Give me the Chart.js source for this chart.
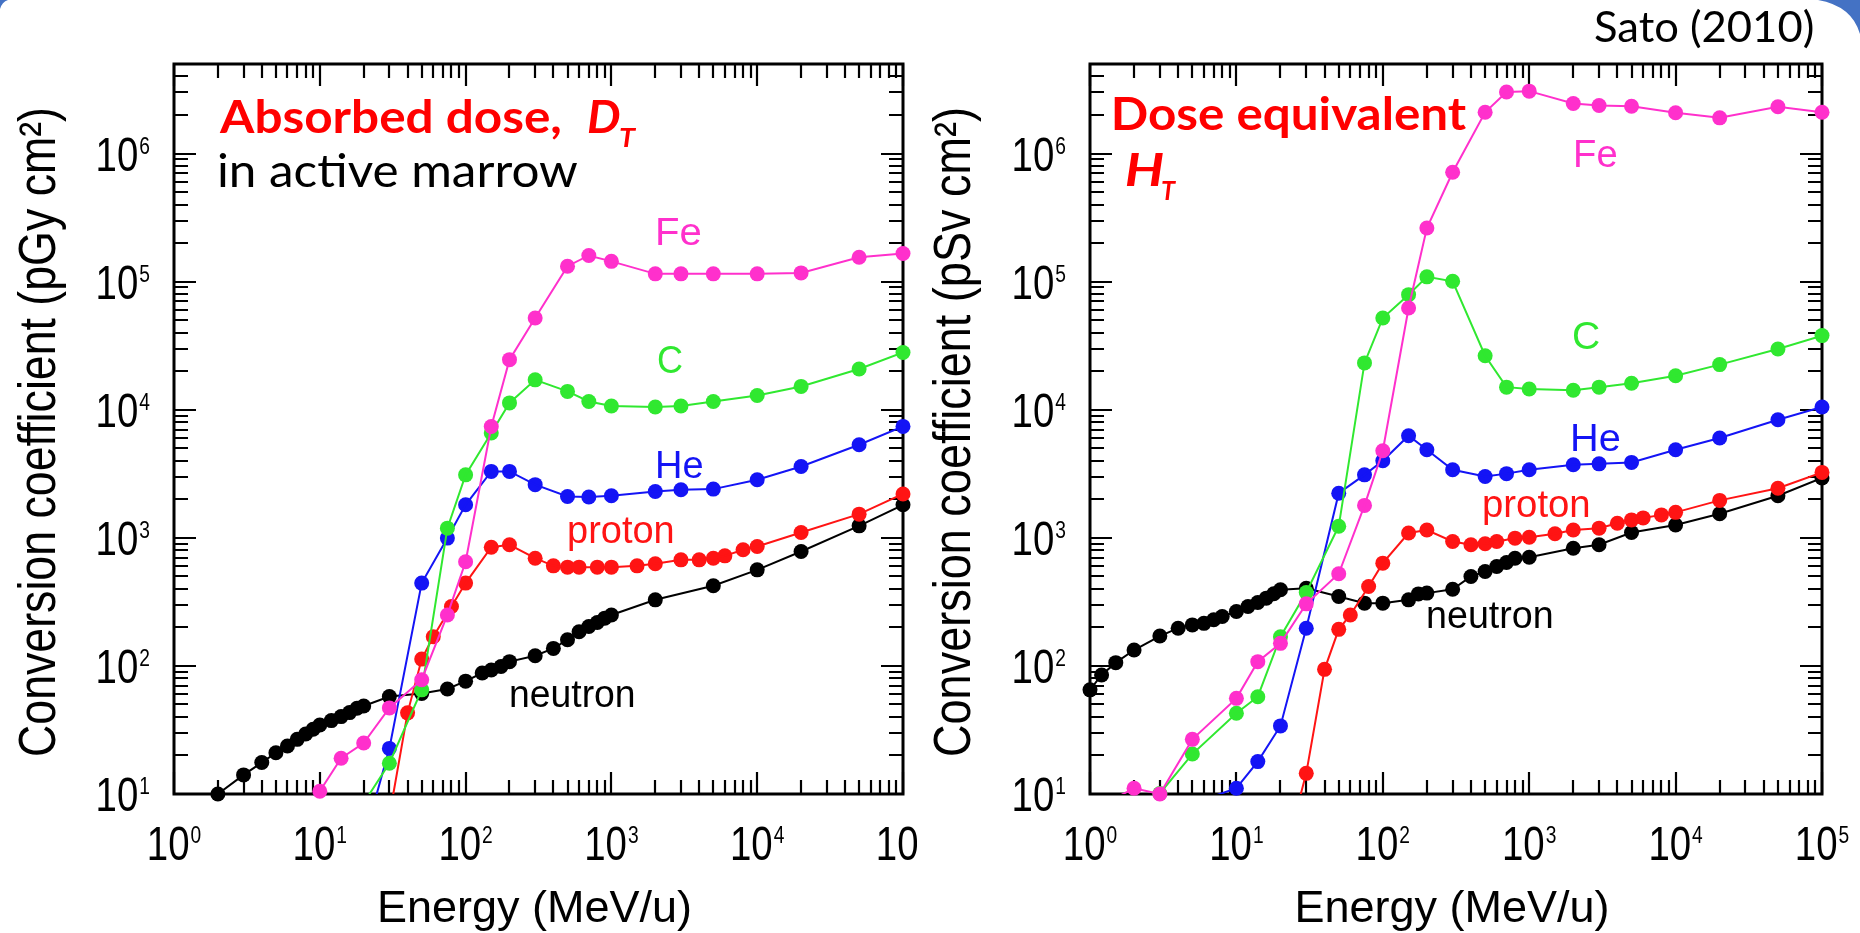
<!DOCTYPE html>
<html><head><meta charset="utf-8">
<script src="https://cdn.jsdelivr.net/npm/chart.js@4.4.0/dist/chart.umd.min.js"></script>
<style>
html,body{margin:0;padding:0;background:#fff;width:1860px;height:933px;overflow:hidden;position:relative}
#c1{position:absolute;left:0;top:0}
#c2{position:absolute;left:930px;top:0}
#deco{position:absolute;left:0;top:0;pointer-events:none}
</style></head><body>
<canvas id="c1" width="917" height="933"></canvas>
<canvas id="c2" width="930" height="933"></canvas>
<svg id="deco" width="1860" height="933"><path d="M1818,0 Q1852,6 1860,34 L1860,0 Z" fill="#4472c4"/><path d="M0,0 L8,0 Q2,2 0,9 Z" fill="#4472c4"/></svg>
<script>
// ---------- tick labels (exponents of 10) ----------
const xTickExps = [0, 1, 2, 3, 4, 5];
const yTickExps = [1, 2, 3, 4, 5, 6];

// ---------- Left panel: absorbed dose D_T (pGy cm2) ----------
const neutronL_E = [2,3,4,5,6,7,8,9,10,12,14,16,18,20,30,50,75,100,130,150,175,200,300,400,500,600,700,800,900,1000,2000,5000,10000,20000,50000,100000];
const neutronL_C = [10,14.1,17.6,21,23.7,26.7,29.4,32,34.6,37.4,40.2,43.2,46.7,48.7,57.6,61,66,76,88,93,99,108,120,137,160,185,203,218,236,250,328,422,562,782,1240,1810];
const protonL_E = [30,40,50,60,80,100,150,200,300,400,500,600,800,1000,1500,2000,3000,4000,5000,6000,8000,10000,20000,50000,100000];
const protonL_C = [6.7,43,113,169,291,443,845,882,693,604,590,590,590,590,604,627,673,673,693,723,806,855,1100,1530,2200];
const heL_E = [20,30,50,75,100,150,200,300,500,700,1000,2000,3000,5000,10000,20000,50000,100000];
const heL_C = [4.3,22.7,443,995,1810,3300,3300,2600,2100,2080,2130,2300,2370,2400,2840,3600,5330,7410];
const cL_E = [20,30,50,75,100,150,200,300,500,700,1000,2000,3000,5000,10000,20000,50000,100000];
const cL_C = [8.5,17.4,65,1190,3100,6580,11300,17100,13900,11600,10700,10500,10700,11600,12900,15200,20800,28000];
const feL_E = [10,14,20,30,50,75,100,150,200,300,500,700,1000,2000,3000,5000,10000,20000,50000,100000];
const feL_C = [10.5,19,25,47,78,250,650,7400,24600,52000,132000,160000,144000,115000,115000,115000,115000,117000,155000,166000];

// ---------- Right panel: dose equivalent H_T (pSv cm2) ----------
const neutronR_E = [1,1.2,1.5,2,3,4,5,6,7,8,10,12,14,16,18,20,30,50,75,100,150,175,200,300,400,500,600,700,800,1000,2000,3000,5000,10000,20000,50000,100000];
const neutronR_C = [65,85,106,133,171,197,209,215,229,243,266,291,313,338,366,393,404,348,309,309,328,365,370,397,499,546,597,641,693,706,830,882,1100,1260,1540,2130,2930];
const protonR_E = [20,30,40,50,60,80,100,150,200,300,400,500,600,800,1000,1500,2000,3000,4000,5000,6000,8000,10000,20000,50000,100000];
const protonR_C = [2.5,14.5,94,193,250,417,634,1090,1150,936,882,898,936,994,1010,1075,1150,1190,1300,1380,1430,1510,1580,1960,2440,3240];
const heR_E = [5,10,14,20,30,50,75,100,150,200,300,500,700,1000,2000,3000,5000,10000,20000,50000,100000];
const heR_C = [8.4,11.1,17.9,34,197,2230,3100,4000,6270,4870,3400,3010,3170,3400,3720,3780,3880,4870,6010,8360,10500];
const cR_E = [3,5,10,14,20,30,50,75,100,150,200,300,500,700,1000,2000,3000,5000,10000,20000,50000,100000];
const cR_C = [10.1,20.5,42.7,57.5,169,374,1230,23200,52000,79100,109000,100600,26400,15000,14500,14200,15000,16100,18400,22500,29800,37900];
const feR_E = [1,2,3,5,10,14,20,30,50,75,100,150,200,300,500,700,1000,2000,3000,5000,10000,20000,50000,100000];
const feR_C = [7.3,11.1,10,26.7,55.8,108,150,305,524,1790,4780,62200,262000,714000,2100000,3020000,3070000,2460000,2370000,2340000,2080000,1900000,2320000,2100000];

const seriesNames = ['neutron', 'proton', 'He', 'C', 'Fe'];
const COLORS = {neutron:'#000000', proton:'#ff1414', He:'#1414f5', C:'#30e830', Fe:'#ff30cc'};

const X_MIN = 1, X_MAX = 1e5, Y_MIN = 10, Y_MAX = 5e6;

function makeDatasets(list) {
  const ds = [];
  list.forEach(s => {
    const pts = s.E.map((e, i) => ({x: e, y: s.C[i]}));
    ds.push({label: s.name, data: pts, borderColor: COLORS[s.name], borderWidth: 2,
             pointRadius: 0, fill: false, tension: 0});
    ds.push({label: s.name + ' points', data: pts.filter(p => p.y >= Y_MIN * 0.999),
             showLine: false, pointRadius: 7.5, pointHoverRadius: 7.5,
             pointBackgroundColor: COLORS[s.name], pointBorderWidth: 0, clip: false});
  });
  return ds;
}

const SX = 0.8; // narrow tick-label font
const MAINF = '48px "Liberation Sans", Arial, sans-serif';
const SUPF = '24px "Liberation Sans", Arial, sans-serif';
function drawPow(ctx, exp, x, baseline, align) {
  ctx.font = MAINF;
  const w1 = ctx.measureText('10').width * SX;
  ctx.font = SUPF;
  const w2 = ctx.measureText(String(exp)).width * SX;
  const x0 = align === 'right' ? x - w1 - w2 - 1 : x - (w1 + w2 + 1) / 2;
  ctx.save(); ctx.fillStyle = '#000'; ctx.textAlign = 'left'; ctx.textBaseline = 'alphabetic';
  ctx.translate(x0, baseline); ctx.scale(SX, 1);
  ctx.font = MAINF; ctx.fillText('10', 0, 0);
  ctx.font = SUPF; ctx.fillText(String(exp), (w1 + 1) / SX, -17);
  ctx.restore();
}

function fitText(ctx, o, off) {
  ctx.save();
  ctx.font = o.font; ctx.textAlign = 'left'; ctx.textBaseline = 'alphabetic';
  const m = ctx.measureText(o.t);
  const gw = m.actualBoundingBoxLeft + m.actualBoundingBoxRight;
  const s = o.w / gw;
  ctx.fillStyle = o.color;
  ctx.translate(o.x - off + m.actualBoundingBoxLeft * s, o.b);
  ctx.scale(s, 1);
  ctx.fillText(o.t, 0, 0);
  ctx.restore();
}

function fitRotated(ctx, o, off) {
  ctx.save();
  ctx.font = o.font; ctx.textAlign = 'center'; ctx.textBaseline = 'alphabetic';
  const m = ctx.measureText(o.t);
  const s = o.len / m.width;
  ctx.fillStyle = '#000';
  ctx.translate(o.x - off, o.cy);
  ctx.rotate(-Math.PI / 2);
  ctx.scale(s, 1);
  ctx.fillText(o.t, 0, 0);
  ctx.restore();
}

function panelPlugin(cfg) {
  return {
    id: 'panel' + cfg.off,
    beforeDatasetsDraw(chart) {
      const ctx = chart.ctx, a = chart.chartArea, xs = chart.scales.x, ys = chart.scales.y;
      ctx.save();
      ctx.strokeStyle = '#000'; ctx.lineWidth = 2.2; ctx.lineCap = 'butt';
      ctx.beginPath();
      for (let d = 0; d <= 5; d++) for (let m = 1; m <= 9; m++) {
        const v = m * Math.pow(10, d); if (v < X_MIN || v > X_MAX) continue;
        const px = Math.round(xs.getPixelForValue(v)); const L = m === 1 ? 22 : 14;
        ctx.moveTo(px, a.bottom); ctx.lineTo(px, a.bottom - L);
        ctx.moveTo(px, a.top); ctx.lineTo(px, a.top + L);
      }
      for (let d = 1; d <= 6; d++) for (let m = 1; m <= 9; m++) {
        const v = m * Math.pow(10, d); if (v < Y_MIN || v > Y_MAX) continue;
        const py = Math.round(ys.getPixelForValue(v)); const L = m === 1 ? 22 : 14;
        ctx.moveTo(a.left, py); ctx.lineTo(a.left + L, py);
        ctx.moveTo(a.right, py); ctx.lineTo(a.right - L, py);
      }
      ctx.stroke();
      ctx.lineWidth = 3;
      ctx.strokeRect(a.left, a.top, a.right - a.left, a.bottom - a.top);
      ctx.restore();
      // tick labels
      xTickExps.forEach(e => drawPow(ctx, e, xs.getPixelForValue(Math.pow(10, e)), a.bottom + 66, 'center'));
      yTickExps.forEach(e => drawPow(ctx, e, a.left - 24, ys.getPixelForValue(Math.pow(10, e)) + 17, 'right'));
      // axis titles
      ctx.save();
      ctx.font = '45px "Liberation Sans", Arial, sans-serif'; ctx.fillStyle = '#000';
      ctx.textAlign = 'center'; ctx.textBaseline = 'alphabetic';
      ctx.fillText('Energy (MeV/u)', (a.left + a.right) / 2 - 4, 922);
      ctx.restore();
      fitRotated(ctx, {t: cfg.ytitle, font: '51px "Liberation Sans", Arial, sans-serif', len: 650, x: cfg.ytitleX, cy: 432}, cfg.off);
    },
    afterDatasetsDraw(chart) {
      const ctx = chart.ctx;
      cfg.texts.forEach(o => fitText(ctx, o, cfg.off));
    }
  };
}

const RED = '#ff0000';
const LAB = '39px "Liberation Sans", Arial, sans-serif';
const leftTexts = [
  {t: 'Absorbed dose,', x: 219, b: 133, w: 341, font: 'bold 46px Lato', color: RED},
  {t: 'D', x: 588, b: 133, w: 32, font: 'italic bold 46px Lato', color: RED},
  {t: 'T', x: 620, b: 147, w: 16, font: 'italic bold 27px Lato', color: RED},
  {t: 'in active marrow', x: 219, b: 187, w: 359, font: '47px Lato', color: '#000'},
  {t: 'Fe', x: 658, b: 245, w: 42, font: LAB, color: COLORS.Fe},
  {t: 'C', x: 658, b: 373, w: 24, font: LAB, color: COLORS.C},
  {t: 'He', x: 658, b: 478, w: 44, font: LAB, color: COLORS.He},
  {t: 'proton', x: 569, b: 543, w: 104, font: LAB, color: COLORS.proton},
  {t: 'neutron', x: 511, b: 707, w: 123, font: LAB, color: COLORS.neutron}
];
const rightTexts = [
  {t: 'Sato (2010)', x: 1595, b: 42, w: 218, font: '42px Lato', color: '#000'},
  {t: 'Dose equivalent', x: 1114, b: 130, w: 352, font: 'bold 46px Lato', color: RED},
  {t: 'H', x: 1126, b: 186, w: 37, font: 'italic bold 46px Lato', color: RED},
  {t: 'T', x: 1162, b: 200, w: 14, font: 'italic bold 27px Lato', color: RED},
  {t: 'Fe', x: 1576, b: 167, w: 40, font: LAB, color: COLORS.Fe},
  {t: 'C', x: 1573, b: 349, w: 26, font: LAB, color: COLORS.C},
  {t: 'He', x: 1573, b: 451, w: 46, font: LAB, color: COLORS.He},
  {t: 'proton', x: 1484, b: 517, w: 105, font: LAB, color: COLORS.proton},
  {t: 'neutron', x: 1428, b: 628, w: 124, font: LAB, color: COLORS.neutron}
];

function makeChart(id, series, pad, cfg) {
  return new Chart(document.getElementById(id), {
    type: 'line',
    data: {datasets: makeDatasets(series)},
    options: {
      responsive: false, animation: false, events: [], devicePixelRatio: 1,
      layout: {padding: pad},
      plugins: {legend: {display: false}, tooltip: {enabled: false}},
      scales: {
        x: {type: 'logarithmic', min: X_MIN, max: X_MAX, display: false},
        y: {type: 'logarithmic', min: Y_MIN, max: Y_MAX, display: false}
      }
    },
    plugins: [panelPlugin(cfg)]
  });
}

function build() {
  const leftSeries = [
    {name: 'Fe', E: feL_E, C: feL_C}, {name: 'C', E: cL_E, C: cL_C}, {name: 'He', E: heL_E, C: heL_C},
    {name: 'proton', E: protonL_E, C: protonL_C}, {name: 'neutron', E: neutronL_E, C: neutronL_C}
  ];
  const rightSeries = [
    {name: 'Fe', E: feR_E, C: feR_C}, {name: 'C', E: cR_E, C: cR_C}, {name: 'He', E: heR_E, C: heR_C},
    {name: 'proton', E: protonR_E, C: protonR_C}, {name: 'neutron', E: neutronR_E, C: neutronR_C}
  ];
  makeChart('c1', leftSeries, {left: 174, right: 917 - 903, top: 64, bottom: 933 - 794},
    {off: 0, ytitle: 'Conversion coefficient (pGy cm\u00B2)', ytitleX: 55, texts: leftTexts});
  makeChart('c2', rightSeries, {left: 1090 - 930, right: 930 - (1822 - 930), top: 64, bottom: 933 - 794},
    {off: 930, ytitle: 'Conversion coefficient (pSv cm\u00B2)', ytitleX: 970, texts: rightTexts});
}

const fontLoads = ['bold 46px Lato', 'italic bold 46px Lato', '47px Lato', '46px "Liberation Sans"'].map(f => document.fonts.load(f).catch(() => null));
Promise.all(fontLoads).then(build, build);
</script>
</body></html>
